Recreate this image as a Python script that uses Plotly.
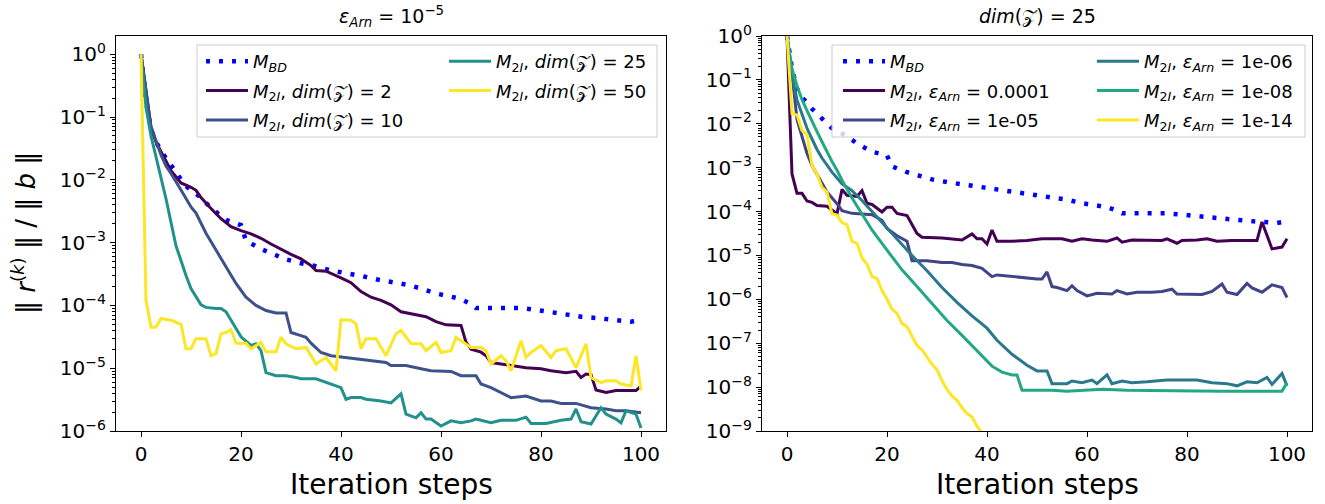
import plotly.graph_objects as go

# ---------------- data ----------------
# shared M_BD curve (same in both panels)
bd_x = [0, 1, 2, 3, 5, 7, 9, 12, 14, 17, 19, 20, 21, 24, 27, 29, 32, 35, 38, 41, 44, 47, 50, 53,
        56, 59, 62, 64, 66, 67, 70, 73, 76, 79, 82, 85, 88, 91, 94, 97, 98, 100]
bd_y = [1.0, 1.8e-1, 6.3e-2, 4.0e-2, 2.2e-2, 1.32e-2, 7.9e-3, 5.2e-3, 3.55e-3, 2.3e-3, 2.04e-3,
        1.9e-3, 1.07e-3, 7.9e-4, 6.3e-4, 5.4e-4, 4.7e-4, 4.2e-4, 3.6e-4, 3.3e-4, 2.95e-4, 2.6e-4,
        2.35e-4, 2.15e-4, 1.86e-4, 1.55e-4, 1.38e-4, 1.26e-4, 1.05e-4, 9.1e-5, 9.1e-5, 9.1e-5,
        9.1e-5, 8.5e-5, 7.8e-5, 7.2e-5, 6.6e-5, 6.3e-5, 5.9e-5, 5.5e-5, 5.5e-5, 6.0e-5]

# left panel: eps_Arn = 1e-5, varying dim(Z)
dim2_x = [0, 1, 2, 3, 4, 5, 6, 8, 10, 11, 12, 14, 16, 18, 20, 22, 24, 26, 28, 30, 32, 34, 35, 37,
          40, 42, 44, 46, 48, 50, 52, 54, 57, 59, 61, 64, 65, 66, 68, 69, 70, 72, 74, 77, 80, 82,
          85, 87, 88, 89, 90, 91, 93, 95, 99, 100]
dim2_y = [1.0, 2.5e-1, 6.6e-2, 4.0e-2, 2.8e-2, 2.0e-2, 1.4e-2, 8.9e-3, 7.6e-3, 6.8e-3,
          5.2e-3, 3.5e-3, 2.4e-3, 1.8e-3, 1.55e-3, 1.38e-3, 1.17e-3, 9.5e-4, 7.8e-4, 6.5e-4,
          5.5e-4, 4.3e-4, 3.6e-4, 3.5e-4, 2.75e-4, 2.3e-4, 1.66e-4, 1.35e-4, 1.2e-4, 1.02e-4,
          7.9e-5, 7.4e-5, 6.6e-5, 5.5e-5, 4.9e-5, 4.8e-5, 2.6e-5, 2.0e-5, 1.8e-5, 1.58e-5,
          1.23e-5, 1.17e-5, 1.1e-5, 1.02e-5, 9.8e-6, 9.1e-6, 8.5e-6, 8.9e-6, 7.1e-6, 8.1e-6,
          7.9e-6, 4.5e-6, 4.1e-6, 4.4e-6, 4.4e-6, 5.2e-6]

dim10_x = [0, 1, 2, 3, 4, 5, 6, 8, 10, 11, 13, 15, 17, 19, 21, 23, 25, 27, 29, 30, 32, 33, 34,
           36, 38, 40, 43, 46, 49, 50, 53, 56, 58, 62, 64, 67, 68, 70, 72, 74, 77, 80, 82, 84,
           87, 90, 93, 95, 97, 100]
dim10_y = [1.0, 2.5e-1, 7.1e-2, 4.2e-2, 2.5e-2, 1.66e-2, 1.26e-2, 6.9e-3, 3.7e-3, 2.95e-3,
           1.41e-3, 7.6e-4, 4.1e-4, 2.24e-4, 1.35e-4, 1.0e-4, 8.3e-5, 7.6e-5, 7.6e-5, 3.7e-5,
           3.3e-5, 3.1e-5, 2.5e-5, 1.78e-5, 1.58e-5, 1.51e-5, 1.41e-5, 1.32e-5, 1.23e-5, 1.1e-5,
           1.1e-5, 9.8e-6, 9.1e-6, 8.9e-6, 7.6e-6, 7.6e-6, 5.6e-6, 4.9e-6, 4.1e-6, 3.4e-6,
           3.6e-6, 3.0e-6, 3.0e-6, 2.75e-6, 2.75e-6, 2.35e-6, 2.24e-6, 2.1e-6, 2.1e-6, 1.95e-6]

dim25_x = [0, 1, 2, 4, 5, 6, 7, 9, 10, 12, 13, 15, 16, 17, 19, 20, 22, 23, 24, 25, 27, 29, 31,
           32, 35, 37, 39, 40, 41, 42, 44, 45, 48, 50, 52, 53, 55, 56, 57, 58, 60, 62, 64, 66,
           67, 70, 72, 75, 77, 78, 81, 84, 86, 87, 88, 90, 92, 93, 95, 96, 97, 99, 100]
dim25_y = [1.0, 1.41e-1, 5.0e-2, 1.12e-2, 5.0e-3, 2.1e-3, 8.9e-4, 3.0e-4, 1.86e-4, 1.02e-4,
           9.3e-5, 8.9e-5, 8.9e-5, 7.9e-5, 4.2e-5, 3.16e-5, 2.3e-5, 2.45e-5, 1.9e-5, 8.5e-6,
           7.6e-6, 7.6e-6, 7.1e-6, 6.8e-6, 6.8e-6, 5.9e-6, 5.2e-6, 4.9e-6, 3.2e-6, 3.4e-6,
           3.4e-6, 3.2e-6, 3.0e-6, 2.8e-6, 3.9e-6, 1.86e-6, 1.62e-6, 1.95e-6, 1.55e-6, 1.55e-6,
           1.2e-6, 1.45e-6, 1.35e-6, 1.45e-6, 1.55e-6, 1.35e-6, 1.48e-6, 1.48e-6, 1.66e-6, 1.32e-6,
           1.32e-6, 1.48e-6, 1.55e-6, 2.24e-6, 1.41e-6, 1.29e-6, 2.34e-6, 1.86e-6, 1.55e-6, 1.35e-6,
           2.1e-6, 1.86e-6, 1.12e-6]

dim50_x = [0, 1, 2, 3, 4, 6, 8, 9, 10, 11, 13, 14, 15, 16, 17, 18, 19, 21, 22, 24, 25, 27, 28,
           29, 31, 33, 35, 36, 37, 39, 40, 42, 43, 44, 45, 47, 49, 51, 52, 54, 56, 57, 59, 60,
           62, 63, 65, 66, 68, 69, 70, 72, 73, 74, 76, 77, 78, 80, 82, 83, 85, 86, 87, 89, 90,
           92, 93, 95, 96, 98, 99, 100]
dim50_y = [1.0, 1.2e-4, 4.5e-5, 4.5e-5, 6.2e-5, 5.8e-5, 5.0e-5, 2.04e-5, 2.04e-5, 2.95e-5,
           2.95e-5, 1.58e-5, 1.7e-5, 3.55e-5, 3.7e-5, 4.1e-5, 2.5e-5, 2.5e-5, 2.04e-5, 2.57e-5,
           1.82e-5, 1.82e-5, 3.1e-5, 2.45e-5, 2.04e-5, 2.14e-5, 1.17e-5, 1.32e-5, 1.48e-5, 9.1e-6,
           5.9e-5, 5.8e-5, 5.1e-5, 2.04e-5, 2.95e-5, 2.95e-5, 1.58e-5, 3.55e-5, 4.0e-5, 2.45e-5,
           2.45e-5, 1.9e-5, 2.57e-5, 1.78e-5, 1.9e-5, 3.1e-5, 2.45e-5, 2.14e-5, 2.14e-5, 1.9e-5,
           1.17e-5, 1.58e-5, 1.32e-5, 9.1e-6, 2.75e-5, 1.48e-5, 1.78e-5, 2.3e-5, 1.48e-5, 1.9e-5,
           2.04e-5, 1.41e-5, 1.02e-5, 2.45e-5, 7.1e-6, 5.9e-6, 6.3e-6, 6.3e-6, 5.6e-6, 5.2e-6,
           1.58e-5, 4.4e-6]

# right panel: dim(Z) = 25, varying eps_Arn
eps4_x = [0, 1, 2, 3, 4, 5, 6, 8, 10, 11, 12, 14, 15, 16, 17, 19, 20, 21, 22, 24, 26, 27, 31,
          35, 37, 38, 39, 40, 41, 42, 45, 48, 51, 55, 57, 59, 61, 64, 66, 67, 69, 72, 75, 76,
          78, 79, 82, 84, 86, 89, 93, 94, 95, 97, 99, 100]
eps4_y = [1.0, 7.2e-4, 2.6e-4, 2.6e-4, 1.74e-4, 1.62e-4, 1.38e-4, 1.32e-4, 8.9e-5, 3.2e-4,
          2.34e-4, 2.2e-4, 3.0e-4, 1.55e-4, 1.45e-4, 9.8e-5, 1.26e-4, 1.26e-4, 9.1e-5, 8.1e-5,
          3.16e-5, 2.6e-5, 2.5e-5, 2.24e-5, 3.1e-5, 2.4e-5, 2.4e-5, 1.82e-5, 3.8e-5, 2.1e-5,
          2.1e-5, 2.2e-5, 2.4e-5, 2.4e-5, 2.1e-5, 2.4e-5, 2.24e-5, 2.1e-5, 2.5e-5, 2.0e-5,
          2.24e-5, 2.2e-5, 2.2e-5, 2.4e-5, 1.9e-5, 2.2e-5, 2.24e-5, 2.4e-5, 2.1e-5, 2.2e-5,
          2.2e-5, 2.2e-5, 5.8e-5, 1.41e-5, 1.55e-5, 2.4e-5]

eps5_x = [0, 1, 2, 4, 5, 7, 8, 10, 11, 13, 15, 17, 19, 20, 22, 24, 25, 26, 28, 31, 33, 35, 37,
          39, 41, 42, 45, 47, 50, 51, 52, 53, 54, 56, 57, 58, 60, 62, 65, 66, 68, 70, 73, 75,
          77, 78, 81, 83, 85, 87, 88, 90, 92, 93, 95, 97, 99, 100]
eps5_y = [1.0, 1.41e-1, 1.26e-2, 2.1e-3, 1.12e-3, 4.3e-4, 2.8e-4, 1.51e-4, 1.05e-4, 9.1e-5,
          8.9e-5, 8.5e-5, 6.3e-5, 4.1e-5, 2.8e-5, 2.1e-5, 7.6e-6, 7.6e-6, 7.6e-6, 6.9e-6,
          6.9e-6, 6.2e-6, 5.9e-6, 5.1e-6, 3.3e-6, 3.6e-6, 3.3e-6, 3.16e-6, 2.9e-6, 2.9e-6,
          4.2e-6, 1.95e-6, 1.86e-6, 1.58e-6, 2.04e-6, 1.58e-6, 1.2e-6, 1.38e-6, 1.32e-6, 1.58e-6,
          1.32e-6, 1.45e-6, 1.45e-6, 1.51e-6, 1.7e-6, 1.32e-6, 1.32e-6, 1.29e-6, 1.51e-6, 2.24e-6,
          1.45e-6, 1.29e-6, 2.3e-6, 1.82e-6, 1.45e-6, 2.14e-6, 1.86e-6, 1.1e-6]

eps6_x = [0, 1, 2, 3, 4, 5, 6, 7, 8, 9, 11, 13, 15, 17, 20, 22, 25, 28, 31, 34, 37, 40, 42, 45,
          48, 50, 52, 53, 56, 57, 59, 61, 62, 64, 65, 67, 69, 72, 76, 82, 85, 88, 90, 92, 94,
          96, 97, 99, 100]
eps6_y = [1.0, 1.26e-1, 3.5e-2, 1.58e-2, 7.9e-3, 4.5e-3, 2.6e-3, 1.66e-3, 1.12e-3, 7.9e-4,
          4.3e-4, 3.0e-4, 1.78e-4, 1.0e-4, 4.4e-5, 2.5e-5, 1.0e-5, 4.5e-6, 1.86e-6, 8.5e-7,
          4.2e-7, 2.2e-7, 1.17e-7, 5.6e-8, 3.16e-8, 2.34e-8, 2.34e-8, 1.2e-8, 1.2e-8, 1.38e-8,
          1.26e-8, 1.45e-8, 1.2e-8, 1.9e-8, 1.2e-8, 1.38e-8, 1.26e-8, 1.32e-8, 1.45e-8, 1.45e-8,
          1.26e-8, 1.2e-8, 1.07e-8, 1.32e-8, 1.26e-8, 1.66e-8, 1.15e-8, 2.04e-8, 1.07e-8]

eps8_x = [0, 1, 2, 3, 4, 5, 6, 7, 8, 9, 10, 11, 13, 15, 17, 20, 23, 26, 29, 32, 35, 38, 41, 43,
          45, 46, 47, 50, 53, 56, 59, 63, 68, 79, 87, 94, 99, 100]
eps8_y = [1.0, 1.78e-1, 7.4e-2, 3.55e-2, 2.0e-2, 1.12e-2, 6.6e-3, 3.9e-3, 2.24e-3, 1.38e-3,
          8.7e-4, 5.2e-4, 2.04e-4, 8.5e-5, 3.8e-5, 1.32e-5, 4.7e-6, 1.95e-6, 7.9e-7, 3.3e-7,
          1.51e-7, 6.8e-8, 3.0e-8, 2.2e-8, 1.9e-8, 1.9e-8, 8.5e-9, 8.5e-9, 8.5e-9, 8.1e-9,
          8.5e-9, 8.9e-9, 8.5e-9, 8.1e-9, 8.1e-9, 8.1e-9, 8.1e-9, 1.26e-8]

eps14_x = [0, 1, 2, 3, 4, 5, 6, 7, 8, 9, 10, 11, 12, 13, 14, 15, 16, 17, 18, 19, 20, 21, 22, 23,
           24, 25, 26, 27, 28, 29, 30, 31, 32, 33, 34, 35, 36, 37, 38, 39, 40]
eps14_y = [1.0, 1.7e-2, 1.58e-2, 7.1e-3, 5.6e-3, 1.12e-3, 7.1e-4, 3.55e-4, 2.8e-4, 8.9e-5,
           8.3e-5, 5.6e-5, 5.0e-5, 2.1e-5, 1.9e-5, 8.9e-6, 6.3e-6, 3.3e-6, 3.0e-6, 1.58e-6,
           1.0e-6, 6.0e-7, 4.8e-7, 2.8e-7, 2.4e-7, 1.41e-7, 8.9e-8, 7.1e-8, 5.0e-8, 3.3e-8,
           2.5e-8, 1.41e-8, 8.9e-9, 6.3e-9, 5.0e-9, 3.4e-9, 2.5e-9, 2.1e-9, 1.29e-9, 8.9e-10,
           5.0e-10]

x_ticks = [0, 20, 40, 60, 80, 100]

for a, b in [(bd_x, bd_y), (dim2_x, dim2_y), (dim10_x, dim10_y), (dim25_x, dim25_y),
             (dim50_x, dim50_y), (eps4_x, eps4_y), (eps5_x, eps5_y), (eps6_x, eps6_y),
             (eps8_x, eps8_y), (eps14_x, eps14_y)]:
    assert len(a) == len(b), (len(a), len(b))

# ---------------- styling ----------------
FONT = "DejaVu Sans"
W, H = 1325, 504
Z = "\U0001D4B5"

def px(x):
    return x / W

def py(y):
    return 1 - y / H

BD_LABEL = "<i>M</i><sub><i>BD</i></sub>"
M2 = "<i>M</i><sub>2<i>I</i></sub>, "
EPS = "<i>ε</i><sub><i>Arn</i></sub>"

fig = go.Figure()

def add(x, y, color, name, xa, ya, leg, dash=None, width=3):
    fig.add_trace(go.Scatter(
        x=x, y=y, mode="lines", name=name, xaxis=xa, yaxis=ya,
        legend=leg, legendgroup=name + leg,
        line=dict(color=color, width=width, dash=dash),
        hoverinfo="skip"))

DOT = "4px,9px"
# left panel
add(bd_x, bd_y, "#0000ff", BD_LABEL, "x", "y", "legend", dash=DOT, width=4.5)
add(dim2_x, dim2_y, "#440154", M2 + "<i>dim</i>(" + Z + ") = 2", "x", "y", "legend")
add(dim10_x, dim10_y, "#3b528b", M2 + "<i>dim</i>(" + Z + ") = 10", "x", "y", "legend")
add(dim25_x, dim25_y, "#21918c", M2 + "<i>dim</i>(" + Z + ") = 25", "x", "y", "legend2")
add(dim50_x, dim50_y, "#fde725", M2 + "<i>dim</i>(" + Z + ") = 50", "x", "y", "legend2")
# right panel
add(bd_x, bd_y, "#0000ff", BD_LABEL, "x2", "y2", "legend3", dash=DOT, width=4.5)
add(eps4_x, eps4_y, "#440154", M2 + EPS + " = 0.0001", "x2", "y2", "legend3")
add(eps5_x, eps5_y, "#414487", M2 + EPS + " = 1e-05", "x2", "y2", "legend3")
add(eps6_x, eps6_y, "#2a788e", M2 + EPS + " = 1e-06", "x2", "y2", "legend4")
add(eps8_x, eps8_y, "#22a884", M2 + EPS + " = 1e-08", "x2", "y2", "legend4")
add(eps14_x, eps14_y, "#fde725", M2 + EPS + " = 1e-14", "x2", "y2", "legend4")

def minor_vals(lo, hi):
    return [m * 10.0 ** e for e in range(lo, hi) for m in range(2, 10)]

def yax(lo, hi, anchor, rng):
    vals = [10.0 ** e for e in range(lo, hi + 1)]
    txt = ["10<sup>" + (str(e) if e >= 0 else "−" + str(-e)) + "</sup>" for e in range(lo, hi + 1)]
    return dict(type="log", range=rng, anchor=anchor, domain=[py(431), py(36)],
                tickmode="array", tickvals=vals, ticktext=txt,
                ticks="outside", ticklen=5, tickwidth=1, tickcolor="black",
                showline=True, mirror=True, linecolor="black", linewidth=1.1,
                showgrid=False, zeroline=False, automargin=False,
                tickfont=dict(family=FONT, size=20, color="black"),
                minor=dict(tickmode="array", tickvals=minor_vals(lo, hi + 1),
                           ticks="outside", ticklen=3, tickwidth=0.8, tickcolor="black",
                           showgrid=False))

def xax(anchor, dom):
    return dict(range=[-5, 105], anchor=anchor, domain=dom,
                tickmode="array", tickvals=x_ticks, ticktext=[str(v) for v in x_ticks],
                ticks="outside", ticklen=5, tickwidth=1, tickcolor="black",
                showline=True, mirror=True, linecolor="black", linewidth=1.1,
                showgrid=False, zeroline=False, automargin=False,
                tickfont=dict(family=FONT, size=20, color="black"))

def legend_at(x, y):
    return dict(x=px(x), y=py(y), xanchor="left", yanchor="top",
                bgcolor="rgba(0,0,0,0)", borderwidth=0, tracegroupgap=3, itemwidth=42,
                font=dict(family=FONT, size=18, color="black"))

fig.update_layout(
    width=W, height=H,
    margin=dict(l=0, r=0, t=0, b=0),
    paper_bgcolor="white", plot_bgcolor="white",
    font=dict(family=FONT, color="black"),
    xaxis=xax("y", [px(116), px(666)]),
    yaxis=yax(-6, 0, "x", [-6, 0.29]),
    xaxis2=xax("y2", [px(762), px(1312)]),
    yaxis2=yax(-9, 0, "x2", [-9, 0]),
    legend=legend_at(201, 43),
    legend2=legend_at(444, 43),
    legend3=legend_at(838, 43),
    legend4=legend_at(1092, 43),
    shapes=[
        dict(type="rect", xref="paper", yref="paper", x0=px(197), x1=px(657), y0=py(137), y1=py(45),
             fillcolor="rgba(255,255,255,0.8)", line=dict(color="#cccccc", width=1), layer="above"),
        dict(type="rect", xref="paper", yref="paper", x0=px(832), x1=px(1305), y0=py(137), y1=py(45),
             fillcolor="rgba(255,255,255,0.8)", line=dict(color="#cccccc", width=1), layer="above"),
    ],
    annotations=[
        dict(text=EPS + " = 10<sup>−5</sup>", x=px(391), y=py(16), xref="paper", yref="paper",
             showarrow=False, xanchor="center", yanchor="middle", font=dict(family=FONT, size=19)),
        dict(text="<i>dim</i>(" + Z + ") = 25", x=px(1037), y=py(16), xref="paper", yref="paper",
             showarrow=False, xanchor="center", yanchor="middle", font=dict(family=FONT, size=19)),
        dict(text="‖ <i>r</i><sup>(<i>k</i>)</sup> ‖ / ‖ <i>b</i> ‖", x=px(24), y=py(233),
             xref="paper", yref="paper", textangle=-90, showarrow=False,
             xanchor="center", yanchor="middle", font=dict(family=FONT, size=26)),
        dict(text="Iteration steps", x=px(391), y=py(484), xref="paper", yref="paper",
             showarrow=False, xanchor="center", yanchor="middle", font=dict(family=FONT, size=28)),
        dict(text="Iteration steps", x=px(1037), y=py(484), xref="paper", yref="paper",
             showarrow=False, xanchor="center", yanchor="middle", font=dict(family=FONT, size=28)),
    ],
)

fig.write_html("out.html", config={"displayModeBar": False},
               post_script="document.body.style.margin='0';document.body.style.overflow='hidden';")
